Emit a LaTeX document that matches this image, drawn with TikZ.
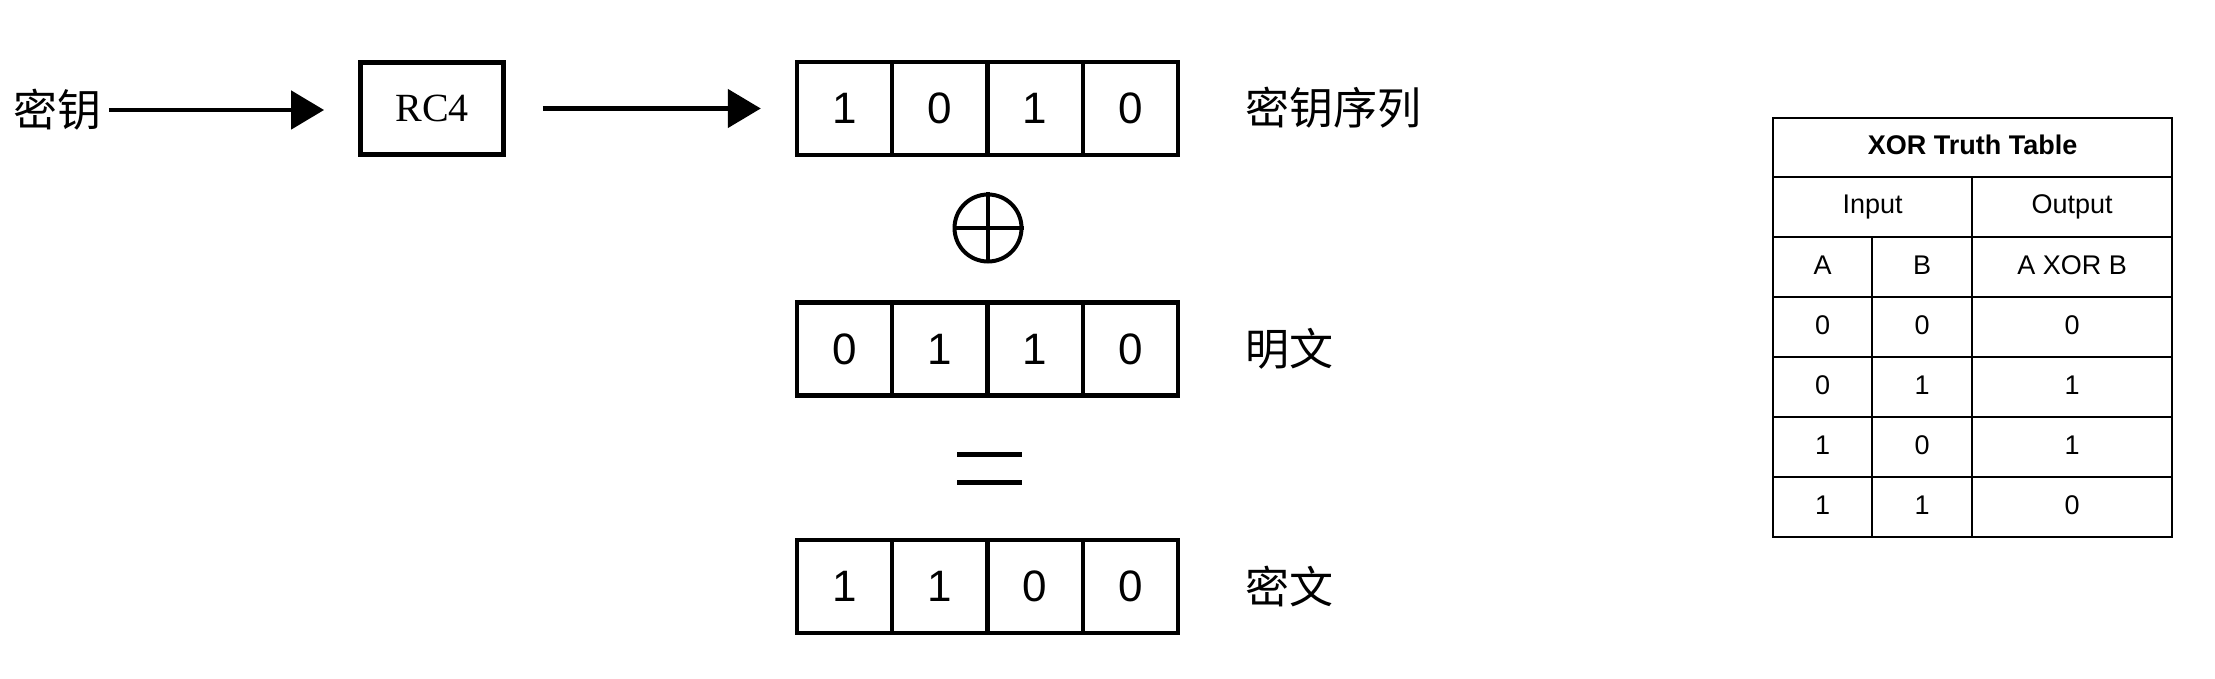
\documentclass[tikz,border=0pt]{standalone}
\usepackage{fontspec}
\setmainfont{Liberation Sans}
\newfontfamily\cjk{Noto Sans CJK SC}
\newfontfamily\serifrc{Liberation Serif}
\usetikzlibrary{arrows.meta}
\begin{document}
\begin{tikzpicture}[x=0.5pt,y=-0.5pt,
  cjklabel/.style={font=\cjk\fontsize{22pt}{26pt}\selectfont, inner sep=0pt, anchor=west},
  bitcell/.style={draw, line width=2.2pt, minimum width=47.625pt, minimum height=46.5pt, inner sep=0pt, font=\fontsize{22pt}{26pt}\selectfont},
  rcbox/.style={draw, line width=2.4pt, minimum width=71.5pt, minimum height=46pt, inner sep=0pt, font=\serifrc\fontsize{20pt}{23pt}\selectfont},
  arr/.style={line width=2.4pt, -{Triangle[length=16.5pt,width=19pt]}},
  tline/.style={line width=1.4pt},
  ttext/.style={font=\fontsize{13.5pt}{16pt}\selectfont, anchor=base, inner sep=0pt},
  symline/.style={line width=2.5pt},
]
\useasboundingbox (0,0) rectangle (2215,679);

% left flow
\node[cjklabel] (key) at (13,110) {密钥};
\node[rcbox] (rc4) at (432,108.5) {RC4};

% bit rows
\foreach \v [count=\i] in {1,0,1,0}
  \node[bitcell] (k\i) at ({987.5+(\i-2.5)*95.25},108.5) {\v};
\foreach \v [count=\i] in {0,1,1,0}
  \node[bitcell] (p\i) at ({987.5+(\i-2.5)*95.25},349) {\v};
\foreach \v [count=\i] in {1,1,0,0}
  \node[bitcell] (c\i) at ({987.5+(\i-2.5)*95.25},586.5) {\v};

% arrows
\draw[arr, shorten <=3.5pt, shorten >=17pt] (key.east) -- (key.east -| rc4.west);
\draw[arr, shorten <=18.5pt, shorten >=17pt] (rc4.east) -- (k1.west);

% labels
\node[cjklabel] (ksl) at (1245,108) {密钥序列};
\node[cjklabel] (ptl) at (1245,349) {明文};
\node[cjklabel] (ctl) at (1245,587) {密文};

% xor symbol
\node[draw, circle, line width=2pt, minimum size=33.5pt, inner sep=0pt] (xor) at (988,228) {};
\draw[line width=2pt] (xor.north) -- (xor.south);
\draw[line width=2pt] (xor.west) -- (xor.east);

% equals symbol
\coordinate (eqc) at (989.5,468);
\draw[symline] ([xshift=-16.25pt,yshift=7pt]eqc) -- ([xshift=16.25pt,yshift=7pt]eqc);
\draw[symline] ([xshift=-16.25pt,yshift=-7pt]eqc) -- ([xshift=16.25pt,yshift=-7pt]eqc);

% truth table
\draw[tline] (1773,118) rectangle (2172,537);
\foreach \yy in {177,237,297,357,417,477}
  \draw[tline] (1773,\yy) -- (2172,\yy);
\draw[tline] (1972,177) -- (1972,537);
\draw[tline] (1872,237) -- (1872,537);

\node[ttext, font=\bfseries\fontsize{13.5pt}{16pt}\selectfont] (title) at (1972.5,154.5) {XOR Truth Table};
\node[ttext] (inp) at (1872.5,214) {Input};
\node[ttext] (outp) at (2072,214) {Output};
\node[ttext] (ha) at (1822.5,274) {A};
\node[ttext] (hb) at (1922,274) {B};
\node[ttext] (hx) at (2072,274) {A XOR B};
\foreach \a/\b/\o [count=\r] in {0/0/0,0/1/1,1/0/1,1/1/0} {
  \node[ttext] (ra\r) at (1822.5,{274+60*\r}) {\a};
  \node[ttext] (rb\r) at (1922,{274+60*\r}) {\b};
  \node[ttext] (ro\r) at (2072,{274+60*\r}) {\o};
}
\end{tikzpicture}
\end{document}
